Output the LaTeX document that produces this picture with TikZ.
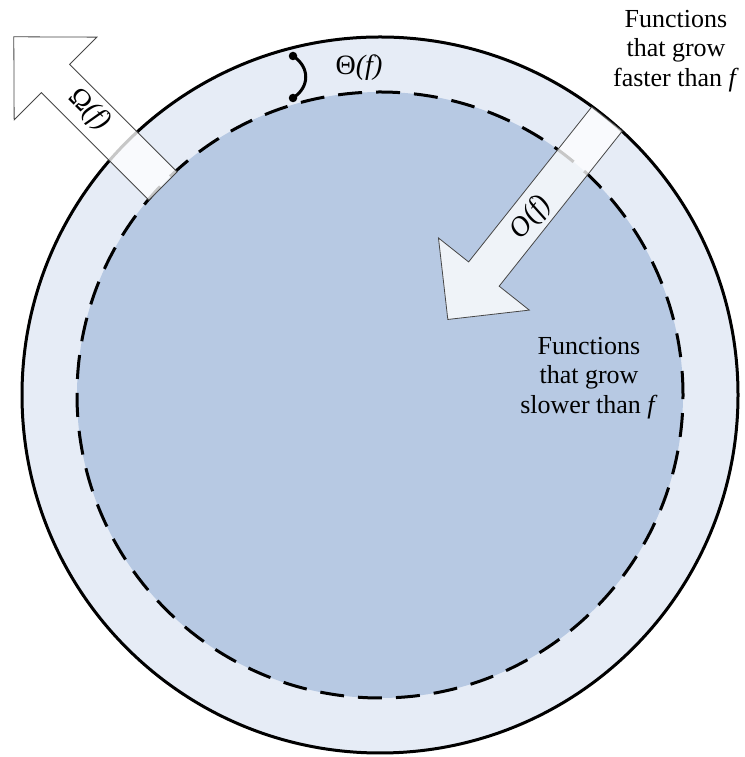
\documentclass[tikz,border=0pt]{standalone}
\usepackage{fontspec}
\setmainfont{Liberation Serif}
\definecolor{ringblue}{RGB}{230,236,246}
\definecolor{coreblue}{RGB}{183,201,227}
\definecolor{arrowline}{RGB}{70,70,70}
\tikzset{
  arrowbox/.style={fill=white, fill opacity=0.78, draw=arrowline, line width=0.8pt},
  lbl/.style={font=\fontsize{26}{29.5}\selectfont, align=center, inner sep=0pt},
  mlbl/.style={font=\fontsize{28}{30}\selectfont, inner sep=0pt},
  dotnode/.style={circle, fill=black, inner sep=0pt, minimum size=8.5pt},
}
\begin{document}
\begin{tikzpicture}[x=1pt,y=1pt]
\useasboundingbox (0,0) rectangle (744,757);
\coordinate (C) at (380,362);
% outer ring
\fill[ringblue] (C) circle (358pt);
\draw[line width=3pt] (C) circle (358pt);
% inner disc
\fill[coreblue] (C) circle (303pt);
\draw[line width=3pt, dash pattern=on 24pt off 14pt] (C) circle (303pt);
% Omega arrow (outward)
\begin{scope}[shift={(163,571)}, rotate=135]
  \draw[arrowbox] (0,-20) -- (152,-20) -- (152,-58.5) -- (211,0) -- (152,58.5) -- (152,20) -- (0,20) -- cycle;
\end{scope}
% O arrow (inward)
\begin{scope}[shift={(607,638)}, rotate=231.55]
  \draw[arrowbox] (0,-19.5) -- (198,-19.5) -- (198,-58) -- (256,0) -- (198,58) -- (198,19.5) -- (0,19.5) -- cycle;
\end{scope}
% Theta bracket
\node[dotnode] (t1) at (293,701) {};
\node[dotnode] (t2) at (293,659) {};
\draw[line width=3pt] (t1.center) .. controls (310,690) and (310,670) .. (t2.center);
% labels
\node[mlbl] (theta) at (359,689) {Θ\textit{(f)}};
\node[mlbl, rotate=-45] (omega) at (89,647) {Ω\textit{(f)}};
\node[mlbl, rotate=51.5] (bigo) at (531,539) {\textit{O(f)}};
\node[lbl] (faster) at (676,706) {Functions\\that grow\\faster than \textit{f}};
\node[lbl] (slower) at (589,379) {Functions\\that grow\\slower than \textit{f}};
\end{tikzpicture}
\end{document}
